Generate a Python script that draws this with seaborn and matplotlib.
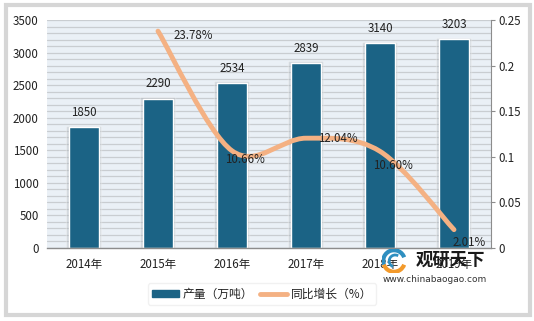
import matplotlib
matplotlib.use("Agg")
import matplotlib.pyplot as plt
import seaborn as sns
import pandas as pd
import numpy as np
from matplotlib.path import Path
from matplotlib.patches import PathPatch, Rectangle, Patch, Arc
from matplotlib.lines import Line2D

years = ["2014年", "2015年", "2016年", "2017年", "2018年", "2019年"]
output = [1850, 2290, 2534, 2839, 3140, 3203]
growth_years = [1, 2, 3, 4, 5]
growth = [0.2378, 0.1066, 0.1204, 0.1060, 0.0201]
growth_labels = ["23.78%", "10.66%", "12.04%", "10.60%", "2.01%"]
left_ticks = [0, 500, 1000, 1500, 2000, 2500, 3000, 3500]
right_ticks = [0, 0.05, 0.1, 0.15, 0.2, 0.25]
right_tick_labels = ["0", "0.05", "0.1", "0.15", "0.2", "0.25"]

sns.set_style("white")
plt.rcParams['font.family'] = ['Noto Sans CJK SC', 'DejaVu Sans']

BAR = "#1b6385"
LINE = "#f4b183"
TXT = "#222222"
FS = 8.3

fig = plt.figure(figsize=(5.34, 3.21), dpi=100)
fig.patch.set_facecolor("white")
# outer frame
fig.patches.append(Rectangle((6/534, 6/321), 524/534, 310/321, transform=fig.transFigure,
                             facecolor="none", edgecolor="#d6d6d6", lw=3, zorder=0))

ax = fig.add_axes([47/534, 1 - 248/321, 444/534, 228/321])
ax.set_facecolor("#eaf0f6")

df = pd.DataFrame({"year": years, "output": output})
# shadow bars
xs = np.arange(len(years))
ax.bar(xs - 0.01, [v + 25 for v in output], width=0.47, color="#9aa0a6", alpha=0.3, zorder=1.5)
sns.barplot(data=df, x="year", y="output", color=BAR, width=0.4, saturation=1,
            edgecolor="white", linewidth=1.0, ax=ax, zorder=2)

ax.set_xlim(-0.5, 5.5)
ax.set_ylim(0, 3500)
ax.set_yticks(left_ticks)
ax.set_yticks(np.arange(0, 3501, 100), minor=True)
ax.grid(True, which="both", axis="y", color="#c9cdd1", lw=0.9, zorder=0)
ax.set_axisbelow(True)
ax.set_xlabel("")
ax.set_ylabel("")
for s in ["top", "right", "left"]:
    ax.spines[s].set_visible(False)
ax.spines["bottom"].set_color("#8c8c8c")
ax.spines["bottom"].set_linewidth(1.0)
ax.tick_params(axis="y", which="both", length=0, labelsize=FS, labelcolor=TXT, pad=6)
ax.tick_params(axis="x", length=0, labelsize=FS, labelcolor=TXT, pad=7)

for i, v in enumerate(output):
    ax.annotate(str(v), (i, v), xytext=(0, 6), textcoords="offset points",
                ha="center", va="bottom", fontsize=FS, color=TXT, zorder=5)

ax2 = ax.twinx()
ax2.set_ylim(0, 0.25)
ax2.set_yticks(right_ticks)
ax2.set_yticklabels(right_tick_labels)
for s in ["top", "left", "bottom"]:
    ax2.spines[s].set_visible(False)
ax2.spines["right"].set_color("#8c8c8c")
ax2.tick_params(axis="y", length=3, color="#8c8c8c", labelsize=FS, labelcolor=TXT, pad=2)

# smooth (Excel-like) line through the data points
pts = list(zip(growth_years, growth))
verts = [pts[0]]
codes = [Path.MOVETO]
n = len(pts)
for i in range(n - 1):
    p0 = pts[i - 1] if i > 0 else pts[i]
    p1 = pts[i]
    p2 = pts[i + 1]
    p3 = pts[i + 2] if i + 2 < n else pts[i + 1]
    c1 = (p1[0] + (p2[0] - p0[0]) / 6, p1[1] + (p2[1] - p0[1]) / 6)
    c2 = (p2[0] - (p3[0] - p1[0]) / 6, p2[1] - (p3[1] - p1[1]) / 6)
    verts += [c1, c2, p2]
    codes += [Path.CURVE4] * 3
ax2.add_patch(PathPatch(Path(verts, codes), facecolor="none", edgecolor=LINE, lw=3.5,
                        capstyle="round", zorder=3))

offsets = [(11, -3, "left"), (9, -6, "center"), (9, 0, "left"), (9, -10, "center"), (11, -9, "center")]
for (x, y, lab, (dx, dy, ha)) in zip(growth_years, growth, growth_labels, offsets):
    ax2.annotate(lab, (x, y), xytext=(dx, dy), textcoords="offset points",
                 ha=ha, va="center", fontsize=FS, color=TXT, zorder=6)

# legend
handles = [Patch(facecolor=BAR, edgecolor=BAR),
           Line2D([0], [0], color=LINE, lw=3.5)]
leg = fig.legend(handles, ["产量（万吨）", "同比增长（%）"], loc="center",
                 bbox_to_anchor=(262/534, 1 - 294/321), ncol=2, frameon=True,
                 fontsize=8.5, handlelength=2.3, handleheight=0.6, columnspacing=0.6,
                 handletextpad=0.3, borderpad=0.35)
leg.get_frame().set_edgecolor("#eeeeee")
leg.get_frame().set_linewidth(1.0)
for t in leg.get_texts():
    t.set_color(TXT)

# watermark
fig.text(416/534, 1 - 260/321, "观研天下", fontsize=12.5, fontweight="bold", color="#1a1a1a",
         ha="left", va="center")
fig.text(435/534, 1 - 279/321, "www.chinabaogao.com", fontsize=6.5, color="#333333",
         ha="center", va="center", family="DejaVu Sans")
lax = fig.add_axes([382/534, 1 - 273/321, 24/534, 24/321])
lax.set_xlim(-1, 1)
lax.set_ylim(-1, 1)
lax.axis("off")
lax.add_patch(Arc((0, 0), 1.8, 1.8, theta1=20, theta2=200, color="#2f8fc0", lw=3))
lax.add_patch(Arc((0, 0), 1.8, 1.8, theta1=200, theta2=340, color="#f39a2b", lw=3))
lax.add_patch(Arc((0.1, 0), 1.0, 1.0, theta1=60, theta2=250, color="#2f8fc0", lw=2))

fig.savefig("out.png", dpi=100, facecolor="white")
